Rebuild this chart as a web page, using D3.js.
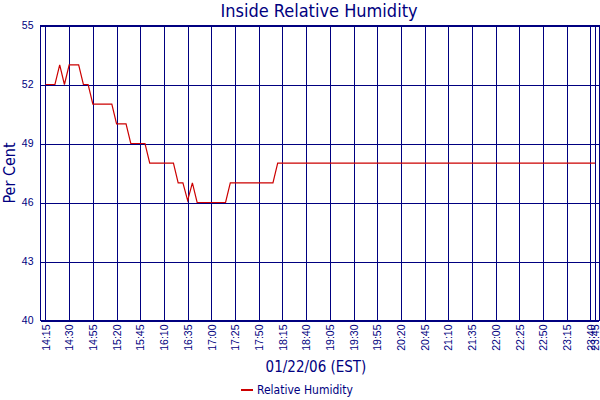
<!DOCTYPE html>
<html>
<head>
<meta charset="utf-8">
<script src="https://cdn.jsdelivr.net/npm/d3@7"></script>
<style>
  body { margin: 0; background: #fff; }
  svg { font-family: "DejaVu Sans Condensed", "DejaVu Sans", sans-serif; }
  .grid line { stroke: #000080; stroke-width: 1; shape-rendering: crispEdges; }
  .grid text { fill: #000080; font-size: 10.5px; }
</style>
</head>
<body>
<svg width="600" height="400"></svg>
<script>
// humidity readings, one every 5 minutes (index based, like the original category axis)
let humidity = [
  52, 52, 52, 53, 52, 53, 53, 53, 52, 52,
  51, 51, 51, 51, 51, 50, 50, 50, 49, 49,
  49, 49, 48, 48, 48, 48, 48, 48, 47, 47,
  46.1, 47, 46, 46, 46, 46, 46, 46, 46, 47,
  47, 47, 47, 47, 47, 47, 47, 47, 47, 48,
  48, 48, 48, 48, 48, 48, 48, 48, 48, 48,
  48, 48, 48, 48, 48, 48, 48, 48, 48, 48,
  48, 48, 48, 48, 48, 48, 48, 48, 48, 48,
  48, 48, 48, 48, 48, 48, 48, 48, 48, 48,
  48, 48, 48, 48, 48, 48, 48, 48, 48, 48,
  48, 48, 48, 48, 48, 48, 48, 48, 48, 48,
  48, 48, 48, 48, 48, 48, 48
];

let timeLabels = ['14:15', '14:30', '14:55', '15:20', '15:45', '16:10', '16:35', '17:00',
  '17:25', '17:50', '18:15', '18:40', '19:05', '19:30', '19:55', '20:20', '20:45',
  '21:10', '21:35', '22:00', '22:25', '22:50', '23:15', '23:40', '23:45'];
let timeIdx = [0, 5, 10, 15, 20, 25, 30, 35, 40, 45, 50, 55, 60, 65, 70, 75, 80,
  85, 90, 95, 100, 105, 110, 115, 116];

let yTicks = [40, 43, 46, 49, 52, 55];

let svg = d3.select('svg');
let navy = '#000080';

let plotL = 40.5, plotR = 599, plotT = 25.5, plotB = 320.5;

let x = d3.scaleLinear().domain([-1.05, 116.8]).range([plotL, plotR]);
let y = d3.scaleLinear().domain([40, 55]).range([plotB, plotT]);

// horizontal grid + y labels
let yAxis = svg.append('g').attr('class', 'grid')
  .attr('transform', `translate(${plotL},0)`)
  .call(d3.axisLeft(y).tickValues(yTicks).tickSize(-(plotR - plotL)).tickPadding(7));
yAxis.select('.domain').remove();

// vertical grid + rotated time labels
let xAxis = svg.append('g').attr('class', 'grid')
  .attr('transform', `translate(0,${plotB})`)
  .call(d3.axisBottom(x).tickValues(timeIdx).tickFormat((d, i) => timeLabels[i]).tickSize(-(plotB - plotT)));
xAxis.select('.domain').remove();
xAxis.selectAll('text')
  .attr('y', 0)
  .attr('dy', '0.35em')
  .attr('text-anchor', 'end')
  .attr('transform', 'translate(0,4) rotate(-90)');

// frame
svg.append('rect')
  .attr('x', plotL).attr('y', plotT)
  .attr('width', plotR - plotL).attr('height', plotB - plotT)
  .attr('fill', 'none').attr('stroke', navy)
  .attr('shape-rendering', 'crispEdges');

// the data line
let line = d3.line().x((d, i) => x(i)).y(d => y(d));
svg.append('path')
  .datum(humidity)
  .attr('d', line)
  .attr('fill', 'none')
  .attr('stroke', '#cc0000')
  .attr('stroke-width', 1.2);

// titles
svg.append('text')
  .attr('x', 319).attr('y', 17)
  .attr('text-anchor', 'middle')
  .attr('font-size', 18)
  .attr('fill', navy)
  .text('Inside Relative Humidity');

svg.append('text')
  .attr('transform', `translate(15,${(plotT + plotB) / 2}) rotate(-90)`)
  .attr('text-anchor', 'middle')
  .attr('font-size', 16)
  .attr('fill', navy)
  .text('Per Cent');

svg.append('text')
  .attr('x', 316).attr('y', 372)
  .attr('text-anchor', 'middle')
  .attr('font-size', 15)
  .attr('fill', navy)
  .text('01/22/06 (EST)');

// legend
let legend = svg.append('g').attr('transform', 'translate(241,390)');
legend.append('line')
  .attr('x1', 0).attr('x2', 12)
  .attr('stroke', '#cc0000').attr('stroke-width', 2);
legend.append('text')
  .attr('x', 16).attr('y', 4)
  .attr('font-size', 12)
  .attr('fill', navy)
  .text('Relative Humidity');
</script>
</body>
</html>
